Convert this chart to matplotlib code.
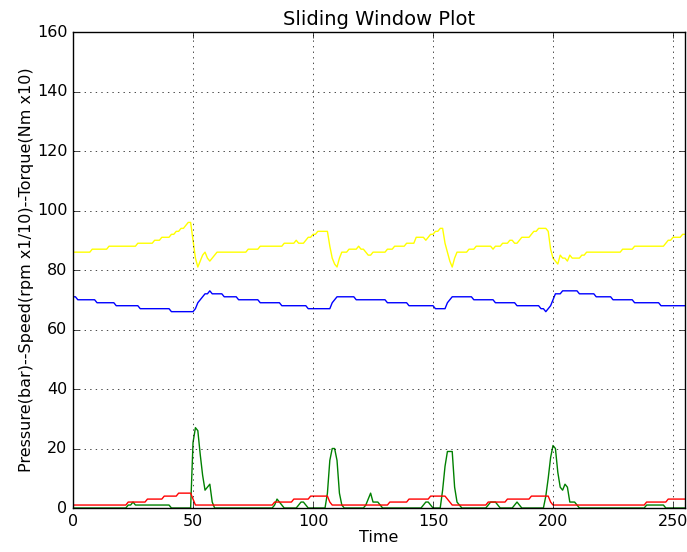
import numpy as np
import matplotlib
matplotlib.use("Agg")
import matplotlib.pyplot as plt

# leituras estimadas do grafico (uma amostra por unidade de tempo)
speed = [
    86, 86, 86, 86, 86, 86, 86, 86, 87, 87, 87, 87, 87, 87, 87, 88,
    88, 88, 88, 88, 88, 88, 88, 88, 88, 88, 88, 89, 89, 89, 89, 89,
    89, 89, 90, 90, 90, 91, 91, 91, 91, 92, 92, 93, 93, 94, 94, 95,
    96, 96, 90, 84, 81, 83, 85, 86, 84, 83, 84, 85, 86, 86, 86, 86,
    86, 86, 86, 86, 86, 86, 86, 86, 86, 87, 87, 87, 87, 87, 88, 88,
    88, 88, 88, 88, 88, 88, 88, 88, 89, 89, 89, 89, 89, 90, 89, 89,
    89, 90, 91, 91, 92, 92, 93, 93, 93, 93, 93, 88, 84, 82, 81, 84,
    86, 86, 86, 87, 87, 87, 87, 88, 87, 87, 86, 85, 85, 86, 86, 86,
    86, 86, 86, 87, 87, 87, 88, 88, 88, 88, 88, 89, 89, 89, 89, 91,
    91, 91, 91, 90, 91, 92, 92, 93, 93, 94, 94, 89, 86, 83, 81, 84,
    86, 86, 86, 86, 86, 87, 87, 87, 88, 88, 88, 88, 88, 88, 88, 87,
    88, 88, 88, 89, 89, 89, 90, 90, 89, 89, 90, 91, 91, 91, 91, 92,
    93, 93, 94, 94, 94, 94, 93, 87, 84, 83, 82, 85, 84, 84, 83, 85,
    84, 84, 84, 84, 85, 85, 86, 86, 86, 86, 86, 86, 86, 86, 86, 86,
    86, 86, 86, 86, 86, 87, 87, 87, 87, 87, 88, 88, 88, 88, 88, 88,
    88, 88, 88, 88, 88, 88, 88, 89, 90, 90, 91, 91, 91, 91, 92, 92,
]

torque = [
    71, 71, 70, 70, 70, 70, 70, 70, 70, 70, 69, 69, 69, 69, 69, 69,
    69, 69, 68, 68, 68, 68, 68, 68, 68, 68, 68, 68, 67, 67, 67, 67,
    67, 67, 67, 67, 67, 67, 67, 67, 67, 66, 66, 66, 66, 66, 66, 66,
    66, 66, 66, 67, 69, 70, 71, 72, 72, 73, 72, 72, 72, 72, 72, 71,
    71, 71, 71, 71, 71, 70, 70, 70, 70, 70, 70, 70, 70, 70, 69, 69,
    69, 69, 69, 69, 69, 69, 69, 68, 68, 68, 68, 68, 68, 68, 68, 68,
    68, 68, 67, 67, 67, 67, 67, 67, 67, 67, 67, 67, 69, 70, 71, 71,
    71, 71, 71, 71, 71, 71, 70, 70, 70, 70, 70, 70, 70, 70, 70, 70,
    70, 70, 70, 69, 69, 69, 69, 69, 69, 69, 69, 69, 68, 68, 68, 68,
    68, 68, 68, 68, 68, 68, 68, 67, 67, 67, 67, 67, 69, 70, 71, 71,
    71, 71, 71, 71, 71, 71, 71, 70, 70, 70, 70, 70, 70, 70, 70, 70,
    69, 69, 69, 69, 69, 69, 69, 69, 69, 68, 68, 68, 68, 68, 68, 68,
    68, 68, 68, 67, 67, 66, 67, 68, 70, 72, 72, 72, 73, 73, 73, 73,
    73, 73, 73, 72, 72, 72, 72, 72, 72, 72, 71, 71, 71, 71, 71, 71,
    71, 70, 70, 70, 70, 70, 70, 70, 70, 70, 69, 69, 69, 69, 69, 69,
    69, 69, 69, 69, 69, 68, 68, 68, 68, 68, 68, 68, 68, 68, 68, 68,
]

pressure = [
    0, 0, 0, 0, 0, 0, 0, 0, 0, 0, 0, 0, 0, 0, 0, 0,
    0, 0, 0, 0, 0, 0, 0, 1, 1, 2, 1, 1, 1, 1, 1, 1,
    1, 1, 1, 1, 1, 1, 1, 1, 1, 0, 0, 0, 0, 0, 0, 0,
    0, 0, 22, 27, 26, 18, 11, 6, 7, 8, 2, 0, 0, 0, 0, 0,
    0, 0, 0, 0, 0, 0, 0, 0, 0, 0, 0, 0, 0, 0, 0, 0,
    0, 0, 0, 0, 1, 3, 2, 1, 0, 0, 0, 0, 0, 0, 1, 2,
    2, 1, 0, 0, 0, 0, 0, 0, 0, 0, 5, 16, 20, 20, 16, 5,
    1, 0, 0, 0, 0, 0, 0, 0, 0, 0, 1, 3, 5, 2, 2, 2,
    1, 0, 0, 0, 0, 0, 0, 0, 0, 0, 0, 0, 0, 0, 0, 0,
    0, 0, 1, 2, 2, 1, 0, 0, 0, 0, 6, 14, 19, 19, 19, 7,
    2, 1, 0, 0, 0, 0, 0, 0, 0, 0, 0, 0, 0, 1, 2, 2,
    2, 1, 0, 0, 0, 0, 0, 0, 1, 2, 1, 0, 0, 0, 0, 0,
    0, 0, 0, 0, 0, 4, 10, 17, 21, 20, 12, 7, 6, 8, 7, 2,
    2, 2, 1, 0, 0, 0, 0, 0, 0, 0, 0, 0, 0, 0, 0, 0,
    0, 0, 0, 0, 0, 0, 0, 0, 0, 0, 0, 0, 0, 0, 0, 1,
    1, 1, 1, 1, 1, 1, 1, 0, 0, 0, 0, 0, 0, 0, 0, 0,
]

pressure2 = [
    1, 1, 1, 1, 1, 1, 1, 1, 1, 1, 1, 1, 1, 1, 1, 1,
    1, 1, 1, 1, 1, 1, 1, 2, 2, 2, 2, 2, 2, 2, 2, 3,
    3, 3, 3, 3, 3, 3, 4, 4, 4, 4, 4, 4, 5, 5, 5, 5,
    5, 5, 3, 1, 1, 1, 1, 1, 1, 1, 1, 1, 1, 1, 1, 1,
    1, 1, 1, 1, 1, 1, 1, 1, 1, 1, 1, 1, 1, 1, 1, 1,
    1, 1, 1, 1, 2, 2, 2, 2, 2, 2, 2, 2, 3, 3, 3, 3,
    3, 3, 3, 4, 4, 4, 4, 4, 4, 4, 4, 2, 1, 1, 1, 1,
    1, 1, 1, 1, 1, 1, 1, 1, 1, 1, 1, 1, 1, 1, 1, 1,
    1, 1, 1, 1, 2, 2, 2, 2, 2, 2, 2, 2, 3, 3, 3, 3,
    3, 3, 3, 3, 3, 4, 4, 4, 4, 4, 4, 4, 3, 2, 1, 1,
    1, 1, 1, 1, 1, 1, 1, 1, 1, 1, 1, 1, 1, 2, 2, 2,
    2, 2, 2, 2, 2, 3, 3, 3, 3, 3, 3, 3, 3, 3, 3, 4,
    4, 4, 4, 4, 4, 4, 4, 2, 1, 1, 1, 1, 1, 1, 1, 1,
    1, 1, 1, 1, 1, 1, 1, 1, 1, 1, 1, 1, 1, 1, 1, 1,
    1, 1, 1, 1, 1, 1, 1, 1, 1, 1, 1, 1, 1, 1, 1, 2,
    2, 2, 2, 2, 2, 2, 2, 2, 3, 3, 3, 3, 3, 3, 3, 3,
]

x_ticks = [0, 50, 100, 150, 200, 250]
y_ticks = [0, 20, 40, 60, 80, 100, 120, 140, 160]

plt.style.use('classic')
plt.rcParams['font.size'] = 11.5
t = np.arange(len(speed))

fig = plt.figure(figsize=(6.87, 5.52), dpi=100, facecolor='white')
ax = fig.add_axes([0.1063, 0.0797, 0.8908, 0.8623])

ax.plot(t, torque, color='blue', lw=1)
ax.plot(t, pressure, color='green', lw=1)
ax.plot(t, pressure2, color='red', lw=1)
ax.plot(t, speed, color='yellow', lw=1)

ax.set_xlim(0, 255)
ax.set_ylim(0, 160)
ax.set_xticks(x_ticks)
ax.set_yticks(y_ticks)
ax.tick_params(axis='x', pad=4)
ax.grid(True)
ax.set_title('Sliding Window Plot', fontsize=14)
ax.set_xlabel('Time', labelpad=1)
ax.set_ylabel('Pressure(bar)--Speed(rpm x1/10)--Torque(Nm x10)', labelpad=2)

fig.savefig('out.png', dpi=100, facecolor='white')
